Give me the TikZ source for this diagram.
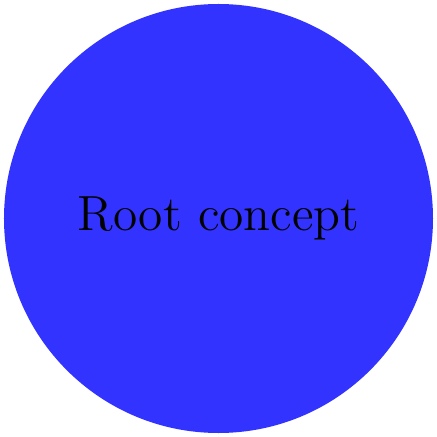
\documentclass[tikz,border=0pt]{standalone}
\definecolor{rootblue}{RGB}{51,51,255}
\tikzset{rootnode/.style={circle, fill=rootblue, draw=none, minimum size=4cm, inner sep=0pt, font=\fontsize{13.1}{15.5}\selectfont}}
\begin{document}
\begin{tikzpicture}
\useasboundingbox (-2.0373,-2.0373) rectangle (2.0373,2.0373);
\node[rootnode] (root) at (0,0) {Root concept};
\end{tikzpicture}
\end{document}
